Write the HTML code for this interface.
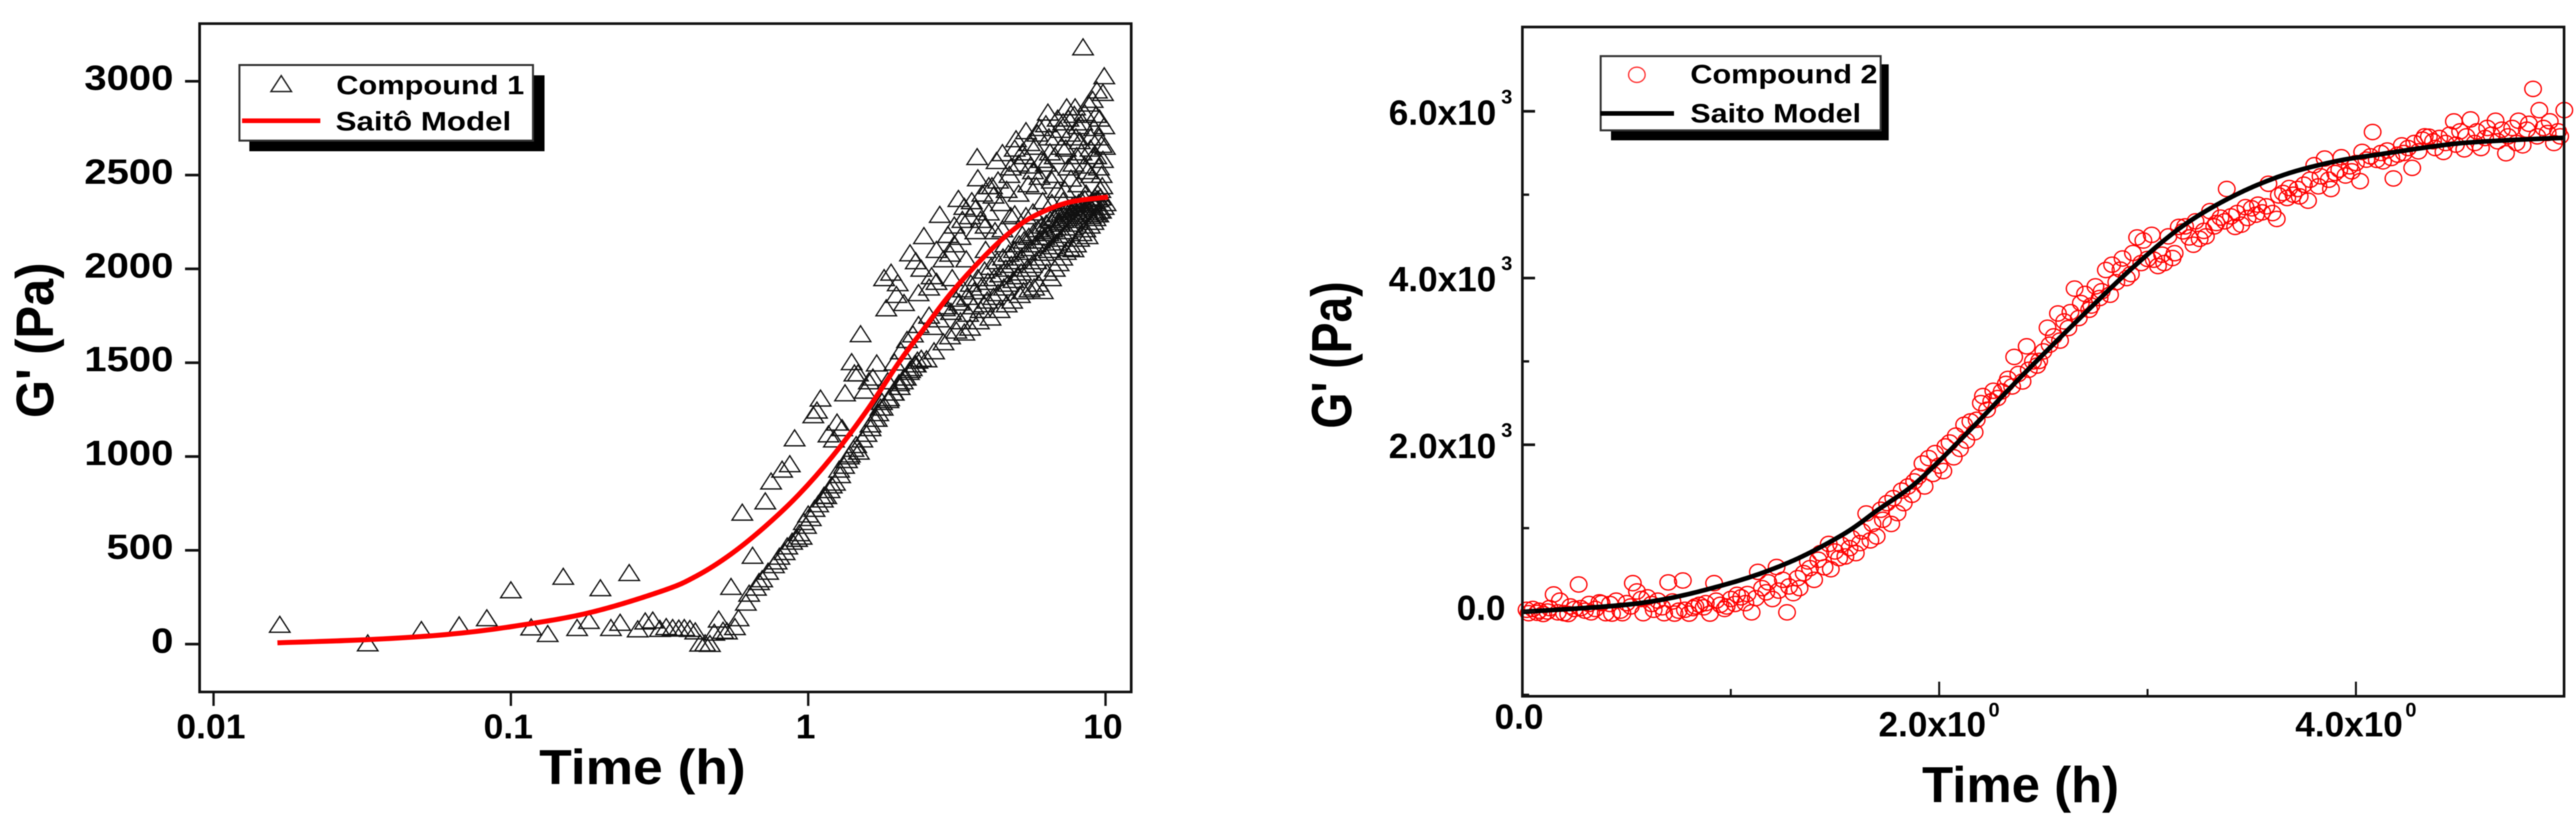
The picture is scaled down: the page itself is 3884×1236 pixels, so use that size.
<!DOCTYPE html>
<html lang="en">
<head>
<meta charset="utf-8">
<title>Storage modulus vs time with Saito model fits</title>
<style>
html,body{margin:0;padding:0;background:#fff;width:3884px;height:1236px;overflow:hidden}
svg{display:block;filter:blur(0.7px)}
text{font-family:"Liberation Sans",Arial,sans-serif;font-weight:700;fill:#000}
</style>
</head>
<body>
<svg id="figure" xmlns="http://www.w3.org/2000/svg" width="3884" height="1236" viewBox="0 0 3884 1236">
  <rect x="0" y="0" width="3884" height="1236" fill="#fff"/>

  <g id="left-chart">
    <g id="left-points"></g>
    <path id="left-model" fill="none" stroke="#f00" stroke-width="7.5" stroke-linejoin="round"></path>
    <rect x="301" y="35.6" width="1404.6" height="1007.4" fill="none" stroke="#111" stroke-width="4"/>
    <g id="left-ticks"></g>
    <text transform="translate(813,1182) scale(1.087,1)" font-size="74">Time (h)</text>
    <text transform="translate(80,630) rotate(-90) scale(0.92,1)" font-size="80">G' (Pa)</text>
    <g>
      <rect x="376" y="113.5" width="445" height="114.5" fill="#000"/>
      <rect x="361" y="98" width="442.6" height="114" fill="#fff" stroke="#333" stroke-width="3"/>
      <polygon points="424,114 439.5,138 408.5,138" fill="none" stroke="#222" stroke-width="2.2"/>
      <text transform="translate(507,142) scale(1.16,1)" font-size="40">Compound 1</text>
      <line x1="365" y1="182" x2="483" y2="182" stroke="#f00" stroke-width="7"/>
      <text transform="translate(506,196.5) scale(1.18,1)" font-size="40">Saitô Model</text>
    </g>
  </g>

  <g id="right-chart">
    <g id="right-points"></g>
    <path id="right-model" fill="none" stroke="#000" stroke-width="7" stroke-linejoin="round"></path>
    <rect x="2295.4" y="40.7" width="1570.6" height="1008.8" fill="none" stroke="#111" stroke-width="4"/>
    <g id="right-ticks"></g>
    <text transform="translate(2898,1209) scale(1.01,1)" font-size="76">Time (h)</text>
    <text transform="translate(2037,646) rotate(-90) scale(0.82,1)" font-size="85">G' (Pa)</text>
    <g>
      <rect x="2429" y="97" width="418.7" height="114.5" fill="#000"/>
      <rect x="2413.4" y="84.6" width="422.2" height="111.9" fill="#fff" stroke="#333" stroke-width="3"/>
      <ellipse cx="2468" cy="112.7" rx="12.5" ry="11.5" fill="none" stroke="#f33" stroke-width="2"/>
      <text transform="translate(2548.6,125.7) scale(1.155,1)" font-size="40">Compound 2</text>
      <line x1="2413" y1="171" x2="2524" y2="171" stroke="#000" stroke-width="7"/>
      <text transform="translate(2548.6,184.7) scale(1.147,1)" font-size="40">Saito Model</text>
    </g>
  </g>
</svg>

<script>
/* ---------- Compound 1 (left chart) ---------- */
const leftXTicks = [0.01, 0.1, 1, 10];
const leftXTickLabels = ["0.01", "0.1", "1", "10"];
const leftYTicks = [0, 500, 1000, 1500, 2000, 2500, 3000];
const leftYTickLabels = ["0", "500", "1000", "1500", "2000", "2500", "3000"];

const compound1Time = [
  .0167,.033,.05,.067,.083,.1,.117,.133,.15,.167,
  .183,.2,.217,.233,.25,.267,.283,.3,.317,.333,
  .35,.367,.383,.4,.417,.433,.45,.467,.483,.5,
  .517,.533,.55,.567,.583,.6,.617,.633,.65,.667,
  .683,.7,.717,.733,.75,.767,.783,.8,.817,.833,
  .85,.867,.883,.9,.917,.933,.95,.967,.983,1,
  1.02,1.04,1.05,1.07,1.08,1.1,1.12,1.13,1.15,1.17,
  1.18,1.2,1.22,1.23,1.25,1.27,1.28,1.3,1.32,1.33,
  1.35,1.37,1.38,1.4,1.42,1.43,1.45,1.47,1.48,1.5,
  1.52,1.55,1.57,1.6,1.62,1.65,1.67,1.7,1.72,1.75,
  1.77,1.8,1.83,1.85,1.87,1.9,1.93,1.95,1.98,2,
  2.03,2.05,2.08,2.1,2.13,2.15,2.18,2.2,2.23,2.25,
  2.28,2.3,2.33,2.35,2.4,2.45,2.5,2.55,2.6,2.65,
  2.7,2.77,2.85,2.9,2.95,3,3.05,3.1,3.15,3.2,
  3.25,3.3,3.35,3.4,3.45,3.5,3.55,3.6,3.65,3.7,
  3.72,3.75,3.8,3.85,3.9,3.95,4,4.05,4.1,4.15,
  4.2,4.25,4.3,4.35,4.4,4.45,4.5,4.55,4.6,4.65,
  4.7,4.75,4.8,4.85,4.9,4.95,5,5.05,5.1,5.15,
  5.2,5.25,5.3,5.35,5.4,5.45,5.5,5.55,5.6,5.65,
  5.7,5.75,5.8,5.85,5.9,5.95,6,6.05,6.1,6.15,
  6.2,6.25,6.3,6.35,6.4,6.45,6.5,6.55,6.6,6.65,
  6.7,6.75,6.8,6.85,6.9,6.95,7,7.05,7.1,7.15,
  7.2,7.25,7.3,7.35,7.4,7.45,7.5,7.55,7.6,7.65,
  7.7,7.75,7.8,7.85,7.9,7.95,8,8.05,8.1,8.15,
  8.2,8.25,8.3,8.35,8.4,8.45,8.5,8.55,8.6,8.65,
  8.7,8.75,8.8,8.85,8.9,8.95,9,9.05,9.1,9.15,
  9.2,9.25,9.3,9.35,9.4,9.45,9.5,9.55,9.6,9.65,
  2.62,2.75,2.88,3.02,3.12,3.22,3.32,3.42,3.52,3.62,
  3.72,3.82,3.92,4.02,4.12,4.22,4.32,4.42,4.52,4.62,
  4.72,4.82,4.92,5.02,5.12,5.22,5.32,5.42,5.52,5.62,
  5.72,5.82,5.92,6.02,6.12,6.22,6.32,6.42,6.52,6.62,
  6.72,6.82,6.92,7.02,7.12,7.22,7.32,7.42,7.52,7.62,
  7.72,7.82,7.92,8.02,8.12,8.22,8.32,8.42,8.52,8.62,
  8.72,8.82,8.92,9.02,9.12,9.22,9.32,9.42,9.52,9.62,
  2.35,2.55,2.7,2.85,3.0,3.1,3.25,3.35,3.5,3.65,
  3.8,3.95,4.05,4.2,4.35,4.5,4.65,4.8,4.95,5.1,
  5.25,5.4,5.55,5.7,5.85,6,6.15,6.3,6.45,6.6,
  6.75,6.9,7.05,7.2,7.35,7.5,7.65,7.8,7.95,8.1,
  8.3,8.5,8.7,8.9,9.1,9.3,9.5,9.7,9.8,9.9,
  1.62,1.7,1.78,1.86,1.94,2.02,2.1,2.2,2.3,2.4,
  9.7,9.75,9.8,9.85,9.9,9.95,10
];
const compound1Modulus = [
  102,3,74,99,137,286,88,53,358,85,
  123,297,85,113,378,78,120,125,80,90,
  85,82,85,80,67,2,3,0,60,130,
  70,67,304,90,137,700,220,268,470,300,
  330,345,760,385,866,420,440,465,929,490,
  520,958,545,1096,560,590,572,650,630,690,
  671,1219,720,1244,745,1308,770,790,788,1117,
  820,845,1090,860,1180,929,900,1150,950,1336,
  980,1000,1010,1502,1040,1442,1060,1442,1025,1651,
  1090,1350,1120,1400,1170,1420,1200,1495,1230,1260,
  1290,1950,1789,1400,1310,1979,1340,1500,1860,1923,
  1370,1560,1400,1817,1420,1620,1450,2082,1470,1650,
  1490,2040,1510,1700,2000,2174,1517,1750,1960,1560,
  2100,2287,1608,1800,2180,1640,1950,2230,1670,2372,
  1720,2260,1660,2050,1760,1686,2360,1800,2200,2595,
  2482,1720,1780,2400,1810,2100,1830,2300,1740,2440,
  1850,2200,2574,1870,1780,2350,2616,1900,2130,1810,
  1920,2500,2280,1830,1940,2640,2690,1960,2400,1860,
  1980,2180,1880,2600,2733,2000,2450,1890,2550,2020,
  2300,1900,2650,2040,2720,1920,2490,2060,2580,1881,
  2085,2200,2770,1979,2832,2100,2620,1950,2350,2120,
  2500,2000,2700,2140,2800,2030,2250,2160,2650,2060,
  2780,2180,2420,2090,2860,2200,2540,2110,2720,2220,
  2300,2240,2104,2820,2860,2130,2600,2260,2450,2160,
  2680,2280,2190,2780,3180,2300,2550,2210,2400,2320,
  2174,2880,2340,2230,2640,2500,2360,2900,2250,2750,
  2380,2270,2600,2950,2400,2290,2700,2800,2420,2310,
  1690,1730,1790,1770,1840,1820,1890,1850,1920,1880,
  1950,1900,1990,1930,2010,1950,2040,1970,2060,2000,
  2080,2020,2100,2040,2130,2060,2150,2090,2170,2110,
  2190,2130,2210,2150,2230,2170,2240,2190,2260,2210,
  2270,2220,2290,2240,2300,2260,2310,2270,2320,2280,
  2330,2290,2340,2300,2350,2310,2360,2320,2370,2330,
  2290,2340,2280,2350,2300,2360,2290,2370,2310,2380,
  1870,1900,1930,2050,2080,2130,2170,2330,2280,2320,
  2260,2230,2440,2390,2470,2210,2420,2540,2290,2560,
  2620,2280,2670,2520,2440,2750,2360,2560,2700,2470,
  2600,2420,2740,2360,2640,2800,2480,2560,2700,2760,
  2620,2830,2520,2700,2600,2820,2540,2660,2580,2760,
  1150,1200,1260,1300,1340,1390,1420,1460,1490,1520,
  2500,2440,2937,2330,3026,2650,2350
];
const model1Time = [.0164,.0331,.0597,.0973,.181,.325,.423,.55,.714,.927,1.205,1.567,2.036,2.449,3.02,3.93,4.82,5.8,7.54,10.2];
const model1Modulus = [7,24,50,90,165,285,365,480,625,795,1000,1240,1510,1680,1870,2070,2200,2285,2355,2383];

/* ---------- Compound 2 (right chart) ---------- */
const rightXMajorTicks = [0, 2, 4];
const rightXMinorTicks = [1, 3];
const rightXTickLabels = ["0.0", "2.0x10", "4.0x10"];
const rightXTickExponents = ["", "0", "0"];
const rightYMajorTicks = [0, 2000, 4000, 6000];
const rightYMinorTicks = [-1000, 1000, 3000, 5000];
const rightYTickLabels = ["0.0", "2.0x10", "4.0x10", "6.0x10"];
const rightYTickExponents = ["", "3", "3", "3"];

const compound2Time = [
  .02,.03,.05,.07,.08,.1,.12,.13,.15,.17,
  .18,.2,.22,.23,.25,.27,.28,.3,.32,.33,
  .35,.37,.38,.4,.42,.43,.45,.47,.48,.5,
  .52,.53,.55,.57,.58,.6,.62,.63,.65,.67,
  .68,.7,.72,.73,.75,.77,.78,.8,.82,.83,
  .85,.87,.88,.9,.92,.93,.95,.97,.98,1,
  1.02,1.03,1.05,1.07,1.08,1.1,1.12,1.13,1.15,1.17,
  1.18,1.2,1.22,1.23,1.25,1.27,1.28,1.3,1.32,1.33,
  1.35,1.37,1.38,1.4,1.42,1.43,1.45,1.47,1.48,1.5,
  1.52,1.53,1.55,1.57,1.58,1.6,1.62,1.63,1.65,1.67,
  1.68,1.7,1.72,1.73,1.75,1.77,1.78,1.8,1.82,1.83,
  1.85,1.87,1.88,1.9,1.92,1.93,1.95,1.97,1.98,2,
  2.02,2.03,2.05,2.07,2.08,2.1,2.12,2.13,2.15,2.17,
  2.18,2.2,2.21,2.23,2.25,2.26,2.28,2.3,2.32,2.33,
  2.35,2.36,2.38,2.4,2.42,2.43,2.45,2.47,2.48,2.5,
  2.52,2.53,2.55,2.57,2.58,2.6,2.62,2.63,2.65,2.67,
  2.68,2.7,2.72,2.73,2.75,2.77,2.78,2.8,2.82,2.83,
  2.85,2.87,2.88,2.9,2.92,2.93,2.95,2.97,2.98,3,
  3.02,3.03,3.05,3.07,3.08,3.1,3.12,3.13,3.15,3.17,
  3.18,3.2,3.22,3.23,3.25,3.27,3.28,3.3,3.32,3.33,
  3.35,3.37,3.38,3.4,3.42,3.43,3.45,3.47,3.48,3.5,
  3.52,3.53,3.55,3.57,3.58,3.6,3.62,3.63,3.65,3.67,
  3.68,3.7,3.72,3.73,3.75,3.77,3.78,3.8,3.82,3.83,
  3.85,3.87,3.88,3.9,3.92,3.93,3.95,3.97,3.98,4,
  4.02,4.03,4.05,4.07,4.08,4.1,4.12,4.13,4.15,4.17,
  4.18,4.2,4.22,4.23,4.25,4.27,4.28,4.3,4.32,4.33,
  4.35,4.37,4.38,4.4,4.42,4.43,4.45,4.47,4.48,4.5,
  4.52,4.53,4.55,4.57,4.58,4.6,4.62,4.63,4.65,4.67,
  4.68,4.7,4.72,4.73,4.75,4.77,4.78,4.8,4.82,4.83,
  4.85,4.87,4.88,4.9,4.92,4.93,4.95,4.97,4.98,5
];
const compound2Modulus = [
  20,-20,30,-15,10,-30,0,40,205,-10,
  130,-20,-30,60,30,324,40,10,90,-10,
  30,110,100,-20,90,-25,130,10,-20,100,
  60,340,240,150,-20,170,90,20,130,50,
  -20,349,120,-25,10,372,20,-25,40,60,
  80,50,100,-25,340,130,80,30,60,150,
  90,200,170,100,210,-10,160,475,280,230,
  350,150,534,250,380,-10,300,220,400,280,
  460,600,520,380,620,700,530,810,507,720,
  640,800,660,760,880,700,820,960,1175,853,
  1050,900,1220,1100,1300,1050,1360,1180,1450,1300,
  1500,1400,1560,1620,1776,1500,1840,1650,1900,1750,
  1685,1980,2027,1850,2110,1950,2240,2050,2280,2150,
  2300,2500,2584,2420,2520,2648,2560,2640,2730,2790,
  2700,3054,2850,2759,3181,2900,3000,2950,3006,3120,
  3404,3200,3300,3575,3250,3480,3400,3591,3873,3520,
  3700,3810,3620,3670,3900,3760,3842,4096,3800,4160,
  3950,4100,4235,4000,4048,4300,4487,4180,4450,4230,
  4518,4220,4144,4280,4180,4500,4240,4298,4614,4560,
  4620,4487,4400,4680,4470,4566,4500,4803,4620,4660,
  4725,4680,5068,4740,4614,4780,4640,4850,4720,4836,
  4760,4880,4788,4860,5131,4780,4709,4991,5020,4960,
  5080,5000,5068,4980,5120,4928,5180,5354,5100,5220,
  5433,5180,5068,5260,5300,5449,5230,5340,5280,5380,
  5163,5513,5420,5460,5752,5417,5500,5400,5530,5440,
  5195,5480,5592,5500,5560,5322,5620,5520,5660,5700,
  5696,5640,5560,5680,5513,5620,5720,5879,5600,5760,
  5544,5700,5903,5620,5760,5560,5680,5800,5720,5887,
  5640,5780,5497,5700,5800,5620,5887,5592,5780,5850,
  6269,5700,6014,5800,5740,5880,5620,5760,5700,6014
];
const model2Time = [0,.568,.974,1.278,1.542,1.704,1.873,2.026,2.198,2.402,2.685,2.93,3.172,3.417,3.659,3.904,4.106,4.512,5];
const model2Modulus = [-5,101,324,587,929,1215,1510,1868,2306,2839,3543,4128,4630,4991,5242,5401,5481,5620,5683];

/* ---------- Axis functions ---------- */
function leftX(t) { return 322 + (Math.log10(t) + 2) * 448.3; }
function leftY(v) { return 970.9 - v * 0.2828; }
function rightX(t) { return 2295.4 + t * 314.2; }
function rightY(v) { return 921.7 - v * 0.12565; }

const NS = "http://www.w3.org/2000/svg";

function addLine(parent, x1, y1, x2, y2, width) {
  const el = document.createElementNS(NS, "line");
  el.setAttribute("x1", x1);
  el.setAttribute("y1", y1);
  el.setAttribute("x2", x2);
  el.setAttribute("y2", y2);
  el.setAttribute("stroke", "#111");
  el.setAttribute("stroke-width", width);
  
  
  parent.appendChild(el);
}

function addLabel(parent, x, y, str, size, sx, anchor) {
  const el = document.createElementNS(NS, "text");
  el.setAttribute("transform", "translate(" + x + "," + y + ") scale(" + sx + ",1)");
  el.setAttribute("font-size", size);
  el.setAttribute("text-anchor", anchor);
  el.textContent = str;
  
  
  parent.appendChild(el);
}

/* Catmull-Rom smoothing through the model points */
function smoothPath(xs, ys) {
  let d = "M" + xs[0] + "," + ys[0];
  for (let i = 0; i < xs.length - 1; i++) {
    const a = Math.max(i - 1, 0);
    const b = Math.min(i + 2, xs.length - 1);
    const c1x = xs[i] + (xs[i + 1] - xs[a]) / 6;
    const c1y = ys[i] + (ys[i + 1] - ys[a]) / 6;
    const c2x = xs[i + 1] - (xs[b] - xs[i]) / 6;
    const c2y = ys[i + 1] - (ys[b] - ys[i]) / 6;
    d += " C" + c1x + "," + c1y + " " + c2x + "," + c2y + " " + xs[i + 1] + "," + ys[i + 1];
  }
  return d;
}

/* ---------- Left chart drawing ---------- */
const leftTicks = document.getElementById("left-ticks");
leftYTicks.forEach(function (v, i) {
  addLine(leftTicks, 279, leftY(v), 301, leftY(v), 4);
  addLabel(leftTicks, 261.5, leftY(v) + 13, leftYTickLabels[i], 53, 1.14, "end");
});
leftXTicks.forEach(function (t, i) {
  addLine(leftTicks, leftX(t), 1043, leftX(t), 1064, 3.5);
  addLabel(leftTicks, leftX(t) - 4, 1113, leftXTickLabels[i], 52, 1.03, "middle");
});

const leftPoints = document.getElementById("left-points");
compound1Time.forEach(function (t, i) {
  const cx = leftX(t);
  const cy = leftY(compound1Modulus[i]);
  const tri = document.createElementNS(NS, "polygon");
  tri.setAttribute("points", cx + "," + (cy - 13) + " " + (cx + 15.5) + "," + (cy + 11) + " " + (cx - 15.5) + "," + (cy + 11));
  tri.setAttribute("fill", "none");
  tri.setAttribute("stroke", "#111");
  tri.setAttribute("stroke-width", "2");
  
  
  leftPoints.appendChild(tri);
});

document.getElementById("left-model").setAttribute("d", smoothPath(model1Time.map(leftX), model1Modulus.map(leftY)));

/* ---------- Right chart drawing ---------- */
const rightTicks = document.getElementById("right-ticks");
rightYMajorTicks.forEach(function (v, i) {
  addLine(rightTicks, 2295.4, rightY(v), 2314.5, rightY(v), 4);
  if (rightYTickExponents[i]) {
    addLabel(rightTicks, 2256, rightY(v) + 20, rightYTickLabels[i], 53, 1, "end");
    addLabel(rightTicks, 2263.5, rightY(v) - 12, rightYTickExponents[i], 30, 1, "start");
  } else {
    addLabel(rightTicks, 2270, rightY(v) + 12.6, rightYTickLabels[i], 53, 1, "end");
  }
});
rightYMinorTicks.forEach(function (v) {
  addLine(rightTicks, 2295.4, rightY(v), 2305.6, rightY(v), 3.5);
});
rightXMajorTicks.forEach(function (t, i) {
  addLine(rightTicks, rightX(t), 1049.5, rightX(t), 1027.5, 3);
  if (rightXTickExponents[i]) {
    addLabel(rightTicks, rightX(t) + 70.7, 1110, rightXTickLabels[i], 53, 1, "end");
    addLabel(rightTicks, rightX(t) + 74.5, 1080, rightXTickExponents[i], 30, 1, "start");
  } else {
    addLabel(rightTicks, rightX(t) - 5, 1098.6, rightXTickLabels[i], 53, 1, "middle");
  }
});
rightXMinorTicks.forEach(function (t) {
  addLine(rightTicks, rightX(t), 1049.5, rightX(t), 1038.5, 3);
});

const rightPoints = document.getElementById("right-points");
compound2Time.forEach(function (t, i) {
  const ring = document.createElementNS(NS, "ellipse");
  ring.setAttribute("cx", rightX(t));
  ring.setAttribute("cy", rightY(compound2Modulus[i]));
  ring.setAttribute("rx", "12.5");
  ring.setAttribute("ry", "11.5");
  ring.setAttribute("fill", "none");
  ring.setAttribute("stroke", "#f00");
  ring.setAttribute("stroke-width", "2");
  
  
  rightPoints.appendChild(ring);
});

document.getElementById("right-model").setAttribute("d", smoothPath(model2Time.map(rightX), model2Modulus.map(rightY)));
</script>
</body>
</html>
